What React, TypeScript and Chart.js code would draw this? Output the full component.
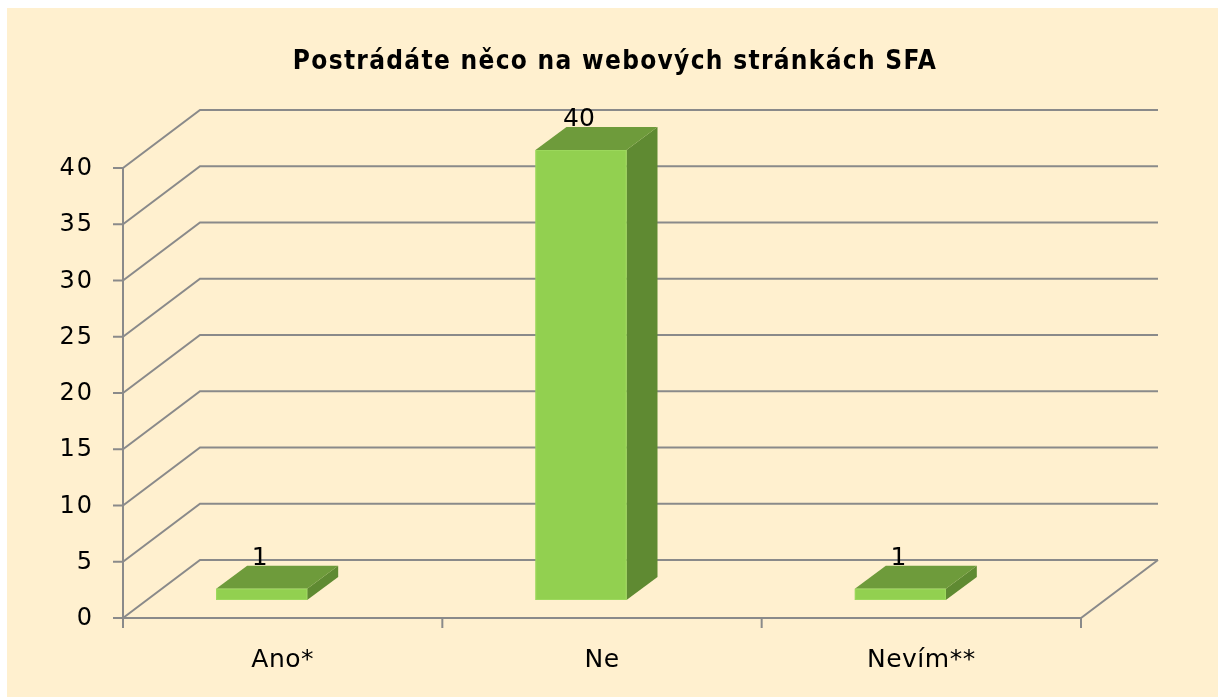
import React, { useEffect, useRef } from "react";
import { Chart, registerables } from "chart.js";

Chart.register(...registerables);

// ---- data ----
const categories: string[] = ["Ano*", "Ne", "Nevím**"];
const values: number[] = [1, 40, 1];
const yTicks: number[] = [0, 5, 10, 15, 20, 25, 30, 35, 40];
const chartTitle = "Postrádáte něco na webových stránkách SFA";

// ---- styling / geometry ----
const W = 1218;
const H = 697;
const CREAM = "#FFF0CF";
const GRID = "#8A8A8A";
const FRONT = "#92D050";
const FRONT_EDGE = "#9CD85C";
const TOP = "#6E9B3B";
const SIDE = "#5F8A32";
const WALL_DX = 77;
const WALL_DY = -58;
const BAR_DX = 31;
const BAR_DY = -23;
const BAR_SHIFT_X = -21;
const BAR_SHIFT_Y = -18;

const threeDPlugin = {
  id: "threeD",
  beforeDraw(chart: any) {
    const ctx = chart.ctx;
    ctx.save();
    ctx.fillStyle = "#ffffff";
    ctx.fillRect(0, 0, chart.width, chart.height);
    ctx.fillStyle = CREAM;
    ctx.fillRect(7, 8, chart.width - 7, chart.height - 8);
    ctx.restore();
  },
  beforeDatasetsDraw(chart: any) {
    const { ctx, chartArea, scales } = chart;
    const ys = scales.y;
    const xs = scales.x;
    const L = chartArea.left;
    const R = chartArea.right;
    const B = ys.getPixelForValue(0);
    const T = ys.getPixelForValue(yTicks[yTicks.length - 1]);
    const line = (x1: number, y1: number, x2: number, y2: number) => {
      ctx.beginPath();
      ctx.moveTo(x1, y1);
      ctx.lineTo(x2, y2);
      ctx.stroke();
    };
    ctx.save();
    ctx.strokeStyle = GRID;
    ctx.lineWidth = 2;
    ctx.lineJoin = "miter";
    yTicks.forEach((v) => {
      const py = ys.getPixelForValue(v);
      ctx.beginPath();
      ctx.moveTo(L, py);
      ctx.lineTo(L + WALL_DX, py + WALL_DY);
      ctx.lineTo(R + WALL_DX, py + WALL_DY);
      ctx.stroke();
      line(L - 10, py, L, py);
    });
    line(L, T, L, B + 10);
    ctx.beginPath();
    ctx.moveTo(L, B);
    ctx.lineTo(R, B);
    ctx.lineTo(R + WALL_DX, B + WALL_DY);
    ctx.stroke();
    const n = categories.length;
    for (let i = 1; i <= n; i++) {
      const bx = L + (i * (R - L)) / n;
      line(bx, B, bx, B + 10);
    }
    // tick labels
    ctx.fillStyle = "#000";
    ctx.font = '24px "DejaVu Sans"';
    (ctx as any).letterSpacing = "2px";
    ctx.textAlign = "right";
    ctx.textBaseline = "middle";
    yTicks.forEach((v) => {
      ctx.fillText(String(v), L - 29, ys.getPixelForValue(v) + 1);
    });
    // category labels
    ctx.font = '25px "DejaVu Sans"';
    (ctx as any).letterSpacing = "0.5px";
    ctx.textAlign = "center";
    ctx.textBaseline = "alphabetic";
    categories.forEach((c, i) => {
      ctx.fillText(c, xs.getPixelForValue(i), B + 49);
    });
    // title
    ctx.font = 'bold 26px "DejaVu Sans Condensed"';
    (ctx as any).letterSpacing = "1.3px";
    ctx.fillText(chartTitle, 615, 69);
    (ctx as any).letterSpacing = "0px";
    ctx.restore();
  },
  afterDatasetsDraw(chart: any) {
    const ctx = chart.ctx;
    const meta = chart.getDatasetMeta(0);
    ctx.save();
    meta.data.forEach((el: any, i: number) => {
      const p = el.getProps(["x", "y", "base", "width"], true);
      const x0 = p.x - p.width / 2 + BAR_SHIFT_X;
      const x1 = x0 + p.width;
      const t = p.y + BAR_SHIFT_Y;
      const b = p.base + BAR_SHIFT_Y;
      // side
      ctx.fillStyle = SIDE;
      ctx.beginPath();
      ctx.moveTo(x1, t);
      ctx.lineTo(x1 + BAR_DX, t + BAR_DY);
      ctx.lineTo(x1 + BAR_DX, b + BAR_DY);
      ctx.lineTo(x1, b);
      ctx.closePath();
      ctx.fill();
      // top
      ctx.fillStyle = TOP;
      ctx.beginPath();
      ctx.moveTo(x0, t);
      ctx.lineTo(x1, t);
      ctx.lineTo(x1 + BAR_DX, t + BAR_DY);
      ctx.lineTo(x0 + BAR_DX, t + BAR_DY);
      ctx.closePath();
      ctx.fill();
      // front
      ctx.fillStyle = FRONT;
      ctx.fillRect(x0, t, p.width, b - t);
      ctx.strokeStyle = FRONT_EDGE;
      ctx.lineWidth = 1;
      ctx.strokeRect(x0 + 0.5, t + 0.5, p.width - 1, b - t - 1);
      // label
      ctx.fillStyle = "#000";
      ctx.font = '25px "DejaVu Sans"';
      ctx.textAlign = "center";
      ctx.textBaseline = "alphabetic";
      ctx.fillText(String(values[i]), p.x + BAR_SHIFT_X - 2, t + BAR_DY - 1);
    });
    ctx.restore();
  },
};

export default function App() {
  const ref = useRef<HTMLCanvasElement | null>(null);
  useEffect(() => {
    if (!ref.current) return;
    const chart = new Chart(ref.current, {
      type: "bar",
      data: {
        labels: categories,
        datasets: [
          {
            data: values,
            backgroundColor: "rgba(0,0,0,0)",
            borderWidth: 0,
            categoryPercentage: 1,
            barPercentage: 0.285,
          },
        ],
      },
      options: {
        responsive: false,
        animation: false,
        devicePixelRatio: 1,
        layout: { padding: { left: 123, right: W - 1081, top: 168, bottom: H - 618 } },
        plugins: { legend: { display: false }, tooltip: { enabled: false }, title: { display: false } },
        scales: {
          x: { display: false, offset: true },
          y: { display: false, min: 0, max: 40, ticks: { stepSize: 5 } },
        },
      },
      plugins: [threeDPlugin],
    });
    return () => chart.destroy();
  }, []);
  return (
    <div style={{ position: "absolute", left: 0, top: 0, width: W, height: H }}>
      <canvas ref={ref} width={W} height={H} style={{ display: "block" }} />
    </div>
  );
}
